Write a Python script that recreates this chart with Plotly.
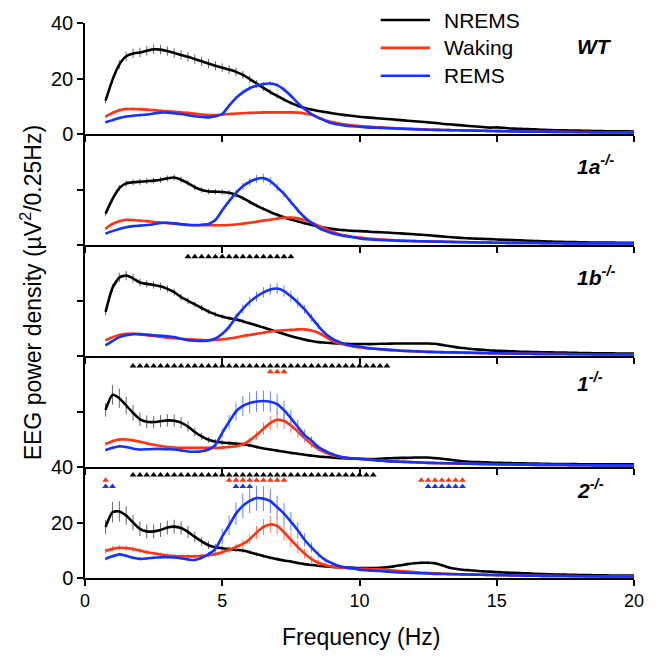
import plotly.graph_objects as go

# ---------------- data ----------------
FREQ = [0.75 + 0.25 * i for i in range(78)]   # 0.25-Hz bins, 0.75 .. 20 Hz

# ---- WT ----
WT_NREMS = [12.0,
 19.5, 25.0, 28.0, 29.0, 29.4, 30.0, 30.5, 30.4, 29.9, 29.2, 28.5, 27.8,
 27.0, 26.2, 25.4, 24.6, 23.9, 23.2, 22.4, 21.3, 19.8, 18.2, 16.6, 15.1,
 13.7, 12.4, 11.2, 10.2, 9.4, 8.8, 8.3, 7.9, 7.5, 7.1, 6.8, 6.5,
 6.2, 6.0, 5.8, 5.6, 5.4, 5.2, 5.0, 4.8, 4.6, 4.4, 4.2, 4.0,
 3.7, 3.5, 3.3, 3.1, 2.9, 2.7, 2.5, 2.3, 2.4, 2.2, 2.0, 1.9,
 1.8, 1.7, 1.6, 1.5, 1.4, 1.35, 1.3, 1.25, 1.2, 1.15, 1.1, 1.05,
 1.0, 1.0, 0.95, 0.95, 0.9]
WT_WAKE = [6.3,
 7.6, 8.6, 9.0, 9.0, 8.9, 8.8, 8.6, 8.4, 8.2, 8.0, 7.8, 7.6,
 7.3, 7.0, 6.8, 6.8, 7.0, 7.2, 7.4, 7.5, 7.6, 7.7, 7.8, 7.8,
 7.8, 7.8, 7.8, 7.7, 7.4, 6.9, 6.0, 5.0, 4.3, 3.8, 3.4, 3.1,
 2.9, 2.7, 2.5, 2.4, 2.2, 2.1, 2.0, 1.9, 1.8, 1.7, 1.6, 1.5,
 1.45, 1.4, 1.35, 1.3, 1.25, 1.2, 1.15, 1.1, 1.05, 1.0, 0.95, 0.9,
 0.9, 0.85, 0.85, 0.8, 0.8, 0.75, 0.75, 0.7, 0.7, 0.7, 0.65, 0.65,
 0.65, 0.6, 0.6, 0.6, 0.6]
WT_REM = [4.2,
 5.0, 5.8, 6.3, 6.6, 6.8, 7.0, 7.4, 7.7, 7.7, 7.5, 7.2, 6.8,
 6.4, 6.1, 6.0, 6.4, 7.2, 10.2, 13.0, 15.0, 16.5, 17.4, 18.0, 18.2,
 17.6, 16.0, 13.8, 11.2, 9.0, 7.2, 5.8, 4.8, 3.9, 3.4, 3.0, 2.8,
 2.6, 2.4, 2.3, 2.2, 2.1, 2.0, 1.9, 1.8, 1.7, 1.6, 1.55, 1.5,
 1.45, 1.4, 1.35, 1.3, 1.25, 1.2, 1.15, 1.1, 1.05, 1.0, 0.95, 0.9,
 0.85, 0.85, 0.8, 0.8, 0.75, 0.75, 0.7, 0.7, 0.65, 0.65, 0.6, 0.6,
 0.6, 0.55, 0.55, 0.55, 0.55]

# ---- 1a-/- ----
A1_NREMS = [11.3,
 16.5, 20.5, 22.2, 22.6, 22.8, 23.0, 23.2, 23.5, 24.0, 24.3, 23.5, 22.3,
 20.8, 19.8, 19.3, 19.2, 19.1, 18.8, 18.0, 16.9, 15.5, 14.2, 13.0, 11.9,
 10.9, 10.0, 9.2, 8.5, 7.8, 7.2, 6.7, 6.2, 5.8, 5.5, 5.3, 5.1,
 5.0, 4.9, 4.7, 4.6, 4.5, 4.3, 4.2, 4.0, 3.9, 3.7, 3.5, 3.3,
 3.1, 2.9, 2.7, 2.5, 2.4, 2.3, 2.2, 2.1, 2.0, 1.9, 1.8, 1.7,
 1.6, 1.5, 1.4, 1.3, 1.2, 1.15, 1.1, 1.05, 1.0, 0.95, 0.9, 0.9,
 0.85, 0.85, 0.8, 0.8, 0.8]
A1_WAKE = [5.9,
 7.6, 8.6, 9.1, 9.0, 8.8, 8.6, 8.3, 8.1, 7.9, 7.7, 7.5, 7.3,
 7.2, 7.1, 7.1, 7.1, 7.1, 7.2, 7.4, 7.7, 8.0, 8.4, 8.8, 9.1,
 9.5, 9.8, 9.9, 9.6, 9.0, 8.1, 7.0, 5.9, 4.8, 4.0, 3.4, 3.0,
 2.7, 2.4, 2.2, 2.0, 1.85, 1.7, 1.6, 1.5, 1.4, 1.3, 1.25, 1.2,
 1.15, 1.1, 1.05, 1.0, 0.95, 0.9, 0.9, 0.85, 0.8, 0.8, 0.75, 0.75,
 0.7, 0.7, 0.7, 0.65, 0.65, 0.65, 0.6, 0.6, 0.6, 0.6, 0.6, 0.6,
 0.6, 0.6, 0.6, 0.6, 0.6]
A1_REM = [4.1,
 5.0, 5.8, 6.4, 6.8, 7.0, 7.2, 7.5, 7.9, 8.0, 7.8, 7.5, 7.2,
 7.1, 7.3, 7.6, 9.0, 12.5, 15.8, 18.8, 21.2, 22.8, 23.8, 24.1, 23.0,
 20.8, 18.4, 15.5, 12.6, 10.0, 8.0, 6.3, 5.1, 4.2, 3.6, 3.2, 2.8,
 2.4, 2.1, 1.9, 1.8, 1.7, 1.6, 1.5, 1.45, 1.4, 1.35, 1.3, 1.25,
 1.2, 1.15, 1.1, 1.05, 1.0, 0.95, 0.9, 0.85, 0.8, 0.8, 0.75, 0.75,
 0.7, 0.7, 0.7, 0.65, 0.65, 0.65, 0.6, 0.6, 0.6, 0.6, 0.6, 0.6,
 0.6, 0.6, 0.6, 0.6, 0.6]

# ---- 1b-/- ----
B1_NREMS = [15.9,
 24.5, 28.3, 29.0, 28.0, 26.5, 26.0, 25.6, 25.1, 24.2, 23.0, 21.2, 19.9,
 18.6, 17.3, 16.0, 15.0, 14.2, 13.6, 13.2, 12.5, 11.8, 11.0, 10.3, 9.5,
 8.7, 7.9, 7.2, 6.5, 5.9, 5.4, 5.0, 4.8, 4.6, 4.5, 4.4, 4.3,
 4.3, 4.3, 4.3, 4.4, 4.4, 4.5, 4.5, 4.5, 4.5, 4.5, 4.5, 4.4,
 4.0, 3.6, 3.2, 2.9, 2.6, 2.4, 2.2, 2.0, 1.9, 1.8, 1.7, 1.6,
 1.5, 1.45, 1.4, 1.35, 1.3, 1.25, 1.2, 1.15, 1.1, 1.05, 1.0, 1.0,
 0.95, 0.95, 0.9, 0.9, 0.9]
B1_WAKE = [5.7,
 6.8, 7.6, 8.0, 8.0, 7.8, 7.5, 7.2, 6.9, 6.6, 6.4, 6.2, 6.0,
 5.9, 5.8, 5.7, 5.8, 6.0, 6.3, 6.7, 7.2, 7.6, 8.0, 8.4, 8.8,
 9.1, 9.3, 9.4, 9.6, 9.6, 9.2, 8.4, 7.0, 5.5, 4.6, 4.0, 3.4,
 3.1, 2.8, 2.6, 2.4, 2.2, 2.05, 1.9, 1.8, 1.7, 1.6, 1.5, 1.4,
 1.3, 1.25, 1.2, 1.15, 1.1, 1.05, 1.0, 0.95, 0.9, 0.9, 0.85, 0.85,
 0.8, 0.8, 0.75, 0.75, 0.7, 0.7, 0.7, 0.65, 0.65, 0.65, 0.6, 0.6,
 0.6, 0.6, 0.6, 0.6, 0.6]
B1_REM = [3.9,
 5.4, 6.8, 7.5, 7.9, 7.9, 7.7, 7.5, 7.3, 7.1, 6.8, 6.2, 5.7,
 5.5, 5.4, 5.6, 6.3, 8.0, 10.5, 14.0, 17.0, 19.5, 21.4, 22.9, 24.0,
 24.3, 23.4, 21.5, 19.3, 16.8, 13.8, 10.8, 8.1, 6.3, 5.1, 4.2, 3.7,
 3.4, 3.0, 2.7, 2.5, 2.3, 2.1, 1.9, 1.8, 1.7, 1.6, 1.5, 1.45,
 1.4, 1.35, 1.3, 1.25, 1.2, 1.15, 1.1, 1.05, 1.0, 0.95, 0.9, 0.85,
 0.8, 0.8, 0.75, 0.75, 0.7, 0.7, 0.7, 0.65, 0.65, 0.65, 0.6, 0.6,
 0.6, 0.6, 0.6, 0.6, 0.6]

# ---- 1-/- ----
K1_NREMS = [20.6,
 26.0, 24.8, 22.2, 19.5, 17.2, 16.3, 16.2, 16.5, 16.8, 16.7, 16.0, 14.6,
 12.6, 11.0, 9.8, 9.1, 8.8, 8.6, 8.4, 8.2, 7.8, 7.2, 6.7, 6.3,
 5.9, 5.5, 5.1, 4.8, 4.4, 4.1, 3.8, 3.6, 3.4, 3.2, 3.1, 3.0,
 3.0, 2.9, 2.9, 3.0, 3.1, 3.2, 3.3, 3.3, 3.4, 3.4, 3.4, 3.2,
 3.0, 2.7, 2.4, 2.1, 1.9, 1.8, 1.7, 1.6, 1.5, 1.45, 1.4, 1.35,
 1.3, 1.25, 1.2, 1.15, 1.1, 1.1, 1.05, 1.05, 1.0, 1.0, 1.0, 1.0,
 1.0, 0.95, 0.95, 0.95, 0.95]
K1_WAKE = [8.3,
 9.3, 9.9, 9.9, 9.6, 9.1, 8.5, 8.0, 7.6, 7.2, 7.0, 6.9, 6.9,
 6.9, 6.9, 6.9, 6.9, 7.0, 7.2, 7.5, 8.2, 9.6, 11.5, 13.8, 15.8,
 17.0, 16.6, 15.0, 12.8, 10.4, 8.2, 6.5, 5.2, 4.3, 3.7, 3.3, 3.1,
 2.9, 2.7, 2.5, 2.3, 2.1, 2.0, 1.9, 1.8, 1.7, 1.6, 1.5, 1.4,
 1.35, 1.3, 1.25, 1.2, 1.15, 1.1, 1.05, 1.0, 0.95, 0.9, 0.9, 0.85,
 0.8, 0.8, 0.75, 0.75, 0.7, 0.7, 0.7, 0.65, 0.65, 0.65, 0.6, 0.6,
 0.6, 0.6, 0.6, 0.6, 0.6]
K1_REM = [6.1,
 6.9, 7.5, 7.2, 6.6, 6.3, 6.4, 6.5, 6.5, 6.4, 6.3, 6.0, 5.6,
 5.5, 5.7, 6.3, 8.0, 12.3, 16.3, 20.0, 22.0, 23.1, 23.6, 23.8, 23.5,
 22.7, 20.5, 17.6, 14.5, 11.5, 9.5, 7.2, 5.8, 4.7, 3.9, 3.4, 3.1,
 2.9, 2.7, 2.5, 2.3, 2.1, 2.0, 1.9, 1.8, 1.7, 1.6, 1.5, 1.45,
 1.4, 1.35, 1.3, 1.25, 1.2, 1.15, 1.1, 1.05, 1.0, 0.95, 0.9, 0.85,
 0.8, 0.8, 0.75, 0.75, 0.7, 0.7, 0.7, 0.65, 0.65, 0.65, 0.6, 0.6,
 0.6, 0.6, 0.6, 0.6, 0.6]

# ---- 2-/- ----
K2_NREMS = [18.4,
 23.7, 24.0, 22.5, 20.0, 17.7, 16.8, 16.8, 17.3, 18.2, 18.5, 18.0, 16.6,
 14.8, 13.2, 11.8, 11.1, 10.7, 10.4, 10.2, 9.9, 9.3, 8.6, 7.9, 7.3,
 6.8, 6.3, 5.9, 5.4, 5.0, 4.7, 4.4, 4.2, 4.0, 3.9, 3.8, 3.7,
 3.6, 3.6, 3.6, 3.7, 3.9, 4.2, 4.6, 5.0, 5.3, 5.5, 5.5, 5.3,
 4.6, 3.8, 3.3, 3.0, 2.8, 2.6, 2.4, 2.3, 2.1, 2.0, 1.9, 1.8,
 1.7, 1.6, 1.5, 1.4, 1.3, 1.25, 1.2, 1.15, 1.1, 1.05, 1.0, 1.0,
 0.95, 0.9, 0.9, 0.85, 0.85]
K2_WAKE = [9.8,
 10.5, 10.9, 10.8, 10.4, 9.9, 9.3, 8.9, 8.5, 8.1, 7.9, 7.8, 7.8,
 7.8, 8.0, 8.2, 8.6, 9.3, 10.2, 11.2, 12.3, 14.0, 16.4, 18.4, 19.3,
 18.8, 16.5, 13.8, 11.1, 8.8, 6.8, 5.5, 4.7, 4.1, 3.8, 3.6, 3.4,
 3.3, 3.3, 3.2, 3.1, 2.9, 2.7, 2.5, 2.3, 2.1, 1.9, 1.8, 1.7,
 1.6, 1.5, 1.4, 1.3, 1.25, 1.2, 1.15, 1.1, 1.05, 1.0, 0.95, 0.9,
 0.85, 0.8, 0.8, 0.75, 0.75, 0.7, 0.7, 0.7, 0.65, 0.65, 0.65, 0.6,
 0.6, 0.6, 0.6, 0.6, 0.6]
K2_REM = [6.9,
 7.8, 8.5, 8.0, 7.3, 6.9, 7.0, 7.3, 7.5, 7.5, 7.4, 7.1, 6.7,
 6.5, 7.3, 8.6, 10.5, 15.0, 19.0, 23.2, 26.0, 27.8, 28.8, 28.6, 27.7,
 25.5, 23.2, 20.3, 17.2, 13.8, 11.0, 8.5, 6.5, 5.3, 4.3, 3.8, 3.5,
 3.0, 2.8, 2.6, 2.5, 2.3, 2.1, 2.0, 1.9, 1.8, 1.7, 1.6, 1.5,
 1.45, 1.4, 1.35, 1.3, 1.25, 1.2, 1.15, 1.1, 1.05, 1.0, 0.95, 0.9,
 0.85, 0.8, 0.8, 0.75, 0.75, 0.7, 0.7, 0.65, 0.65, 0.6, 0.6, 0.6,
 0.55, 0.55, 0.55, 0.55, 0.55]

# ---- SEM (error bars) ----
WT_NREMS_E = [1.0,
 1.3, 1.6, 1.7, 1.7, 1.7, 1.7, 1.7, 1.7, 1.7, 1.7, 1.7, 1.7,
 1.7, 1.7, 1.7, 1.7, 1.6, 1.6, 1.5, 1.4, 1.3, 1.2, 1.1, 1.0,
 0.9, 0.8, 0.7, 0.6, 0.5, 0.5, 0.4, 0.4, 0.4, 0.3, 0.3, 0.3,
 0.3, 0.3, 0.3, 0.3, 0.3, 0.3, 0.2, 0.2, 0.2, 0.2, 0.2, 0.2,
 0.2, 0.2, 0.2, 0.2, 0.2, 0.1, 0.1, 0.1, 0.1, 0.1, 0.1, 0.1,
 0.1, 0.1, 0.1, 0.1, 0.1, 0.1, 0.1, 0.1, 0.1, 0.1, 0.1, 0.1,
 0.1, 0.1, 0.1, 0.1, 0.1]
WT_WAKE_E = [0.5,
 0.6, 0.7, 0.7, 0.7, 0.7, 0.7, 0.6, 0.6, 0.6, 0.5, 0.5, 0.5,
 0.5, 0.4, 0.4, 0.4, 0.4, 0.4, 0.4, 0.4, 0.4, 0.4, 0.4, 0.4,
 0.4, 0.4, 0.4, 0.4, 0.4, 0.3, 0.3, 0.3, 0.3, 0.2, 0.2, 0.2,
 0.2, 0.2, 0.2, 0.2, 0.2, 0.1, 0.1, 0.1, 0.1, 0.1, 0.1, 0.1,
 0.1, 0.1, 0.1, 0.1, 0.1, 0.1, 0.1, 0.1, 0.1, 0.1, 0.1, 0.1,
 0.1, 0.1, 0.1, 0.1, 0.1, 0.1, 0.1, 0.1, 0.1, 0.1, 0.1, 0.1,
 0.1, 0.1, 0.1, 0.1, 0.1]
WT_REM_E = [0.4,
 0.5, 0.5, 0.5, 0.5, 0.5, 0.5, 0.5, 0.5, 0.5, 0.5, 0.5, 0.4,
 0.4, 0.4, 0.4, 0.4, 0.5, 0.6, 0.7, 0.8, 0.8, 0.8, 0.8, 0.8,
 0.8, 0.8, 0.7, 0.6, 0.5, 0.4, 0.3, 0.3, 0.2, 0.2, 0.2, 0.2,
 0.2, 0.2, 0.2, 0.2, 0.1, 0.1, 0.1, 0.1, 0.1, 0.1, 0.1, 0.1,
 0.1, 0.1, 0.1, 0.1, 0.1, 0.1, 0.1, 0.1, 0.1, 0.1, 0.1, 0.1,
 0.1, 0.1, 0.1, 0.1, 0.1, 0.1, 0.1, 0.1, 0.1, 0.1, 0.1, 0.1,
 0.1, 0.1, 0.1, 0.1, 0.1]
A1_NREMS_E = [0.8,
 1.0, 1.1, 1.1, 1.1, 1.1, 1.1, 1.1, 1.1, 1.1, 1.1, 1.1, 1.0,
 1.0, 1.0, 1.0, 1.0, 1.0, 0.9, 0.9, 0.8, 0.8, 0.7, 0.7, 0.6,
 0.6, 0.5, 0.5, 0.4, 0.4, 0.4, 0.3, 0.3, 0.3, 0.3, 0.3, 0.2,
 0.2, 0.2, 0.2, 0.2, 0.2, 0.2, 0.2, 0.2, 0.2, 0.1, 0.1, 0.1,
 0.1, 0.1, 0.1, 0.1, 0.1, 0.1, 0.1, 0.1, 0.1, 0.1, 0.1, 0.1,
 0.1, 0.1, 0.1, 0.1, 0.1, 0.1, 0.1, 0.1, 0.1, 0.1, 0.1, 0.1,
 0.1, 0.1, 0.1, 0.1, 0.1]
A1_WAKE_E = [0.4,
 0.5, 0.5, 0.5, 0.5, 0.5, 0.5, 0.5, 0.4, 0.4, 0.4, 0.4, 0.4,
 0.4, 0.4, 0.4, 0.4, 0.4, 0.4, 0.4, 0.4, 0.4, 0.5, 0.5, 0.5,
 0.5, 0.5, 0.5, 0.5, 0.5, 0.4, 0.4, 0.3, 0.3, 0.2, 0.2, 0.2,
 0.2, 0.2, 0.1, 0.1, 0.1, 0.1, 0.1, 0.1, 0.1, 0.1, 0.1, 0.1,
 0.1, 0.1, 0.1, 0.1, 0.1, 0.1, 0.1, 0.1, 0.1, 0.1, 0.1, 0.1,
 0.1, 0.1, 0.1, 0.1, 0.1, 0.1, 0.1, 0.1, 0.1, 0.1, 0.1, 0.1,
 0.1, 0.1, 0.1, 0.1, 0.1]
A1_REM_E = [0.3,
 0.4, 0.4, 0.4, 0.4, 0.4, 0.4, 0.4, 0.4, 0.4, 0.4, 0.4, 0.4,
 0.4, 0.4, 0.4, 0.5, 0.7, 0.9, 1.1, 1.3, 1.4, 1.5, 1.6, 1.5,
 1.4, 1.3, 1.1, 0.9, 0.7, 0.5, 0.4, 0.3, 0.3, 0.2, 0.2, 0.2,
 0.2, 0.1, 0.1, 0.1, 0.1, 0.1, 0.1, 0.1, 0.1, 0.1, 0.1, 0.1,
 0.1, 0.1, 0.1, 0.1, 0.1, 0.1, 0.1, 0.1, 0.1, 0.1, 0.1, 0.1,
 0.1, 0.1, 0.1, 0.1, 0.1, 0.1, 0.1, 0.1, 0.1, 0.1, 0.1, 0.1,
 0.1, 0.1, 0.1, 0.1, 0.1]
B1_NREMS_E = [1.2,
 1.5, 1.7, 1.7, 1.6, 1.4, 1.3, 1.3, 1.3, 1.3, 1.2, 1.2, 1.1,
 1.0, 1.0, 0.9, 0.9, 0.8, 0.8, 0.7, 0.7, 0.6, 0.6, 0.5, 0.5,
 0.5, 0.4, 0.4, 0.4, 0.3, 0.3, 0.3, 0.3, 0.3, 0.3, 0.3, 0.3,
 0.3, 0.3, 0.3, 0.3, 0.3, 0.3, 0.3, 0.3, 0.3, 0.3, 0.3, 0.3,
 0.2, 0.2, 0.2, 0.2, 0.1, 0.1, 0.1, 0.1, 0.1, 0.1, 0.1, 0.1,
 0.1, 0.1, 0.1, 0.1, 0.1, 0.1, 0.1, 0.1, 0.1, 0.1, 0.1, 0.1,
 0.1, 0.1, 0.1, 0.1, 0.1]
B1_WAKE_E = [0.3,
 0.4, 0.4, 0.4, 0.4, 0.4, 0.4, 0.4, 0.4, 0.4, 0.3, 0.3, 0.3,
 0.3, 0.3, 0.3, 0.3, 0.3, 0.3, 0.4, 0.4, 0.4, 0.4, 0.5, 0.5,
 0.5, 0.5, 0.5, 0.5, 0.5, 0.5, 0.4, 0.4, 0.3, 0.3, 0.2, 0.2,
 0.2, 0.2, 0.1, 0.1, 0.1, 0.1, 0.1, 0.1, 0.1, 0.1, 0.1, 0.1,
 0.1, 0.1, 0.1, 0.1, 0.1, 0.1, 0.1, 0.1, 0.1, 0.1, 0.1, 0.1,
 0.1, 0.1, 0.1, 0.1, 0.1, 0.1, 0.1, 0.1, 0.1, 0.1, 0.1, 0.1,
 0.1, 0.1, 0.1, 0.1, 0.1]
B1_REM_E = [0.3,
 0.4, 0.4, 0.4, 0.4, 0.4, 0.4, 0.4, 0.4, 0.4, 0.4, 0.3, 0.3,
 0.3, 0.3, 0.3, 0.4, 0.6, 0.9, 1.2, 1.5, 1.7, 1.8, 1.9, 2.0,
 2.0, 2.0, 1.9, 1.8, 1.6, 1.4, 1.1, 0.8, 0.6, 0.4, 0.3, 0.3,
 0.2, 0.2, 0.2, 0.1, 0.1, 0.1, 0.1, 0.1, 0.1, 0.1, 0.1, 0.1,
 0.1, 0.1, 0.1, 0.1, 0.1, 0.1, 0.1, 0.1, 0.1, 0.1, 0.1, 0.1,
 0.1, 0.1, 0.1, 0.1, 0.1, 0.1, 0.1, 0.1, 0.1, 0.1, 0.1, 0.1,
 0.1, 0.1, 0.1, 0.1, 0.1]
K1_NREMS_E = [2.5,
 3.5, 3.5, 3.2, 2.8, 2.5, 2.3, 2.2, 2.2, 2.2, 2.2, 2.0, 1.8,
 1.5, 1.3, 1.1, 1.0, 0.9, 0.8, 0.8, 0.7, 0.6, 0.6, 0.5, 0.5,
 0.5, 0.4, 0.4, 0.4, 0.3, 0.3, 0.3, 0.3, 0.3, 0.3, 0.3, 0.3,
 0.3, 0.3, 0.3, 0.3, 0.3, 0.3, 0.3, 0.3, 0.3, 0.3, 0.3, 0.3,
 0.2, 0.2, 0.2, 0.2, 0.1, 0.1, 0.1, 0.1, 0.1, 0.1, 0.1, 0.1,
 0.1, 0.1, 0.1, 0.1, 0.1, 0.1, 0.1, 0.1, 0.1, 0.1, 0.1, 0.1,
 0.1, 0.1, 0.1, 0.1, 0.1]
K1_WAKE_E = [0.5,
 0.6, 0.6, 0.6, 0.6, 0.6, 0.6, 0.5, 0.5, 0.5, 0.5, 0.5, 0.5,
 0.5, 0.5, 0.5, 0.5, 0.5, 0.5, 0.6, 0.8, 1.0, 1.5, 2.2, 2.6,
 2.8, 2.8, 2.6, 2.2, 1.7, 1.3, 0.9, 0.6, 0.4, 0.3, 0.3, 0.2,
 0.2, 0.2, 0.2, 0.2, 0.1, 0.1, 0.1, 0.1, 0.1, 0.1, 0.1, 0.1,
 0.1, 0.1, 0.1, 0.1, 0.1, 0.1, 0.1, 0.1, 0.1, 0.1, 0.1, 0.1,
 0.1, 0.1, 0.1, 0.1, 0.1, 0.1, 0.1, 0.1, 0.1, 0.1, 0.1, 0.1,
 0.1, 0.1, 0.1, 0.1, 0.1]
K1_REM_E = [0.4,
 0.5, 0.5, 0.5, 0.5, 0.5, 0.5, 0.5, 0.5, 0.5, 0.5, 0.5, 0.4,
 0.4, 0.4, 0.5, 0.8, 1.6, 2.5, 3.2, 3.6, 3.8, 3.8, 3.8, 3.8,
 3.7, 3.4, 3.0, 2.5, 2.0, 1.5, 1.0, 0.7, 0.5, 0.3, 0.3, 0.2,
 0.2, 0.2, 0.2, 0.1, 0.1, 0.1, 0.1, 0.1, 0.1, 0.1, 0.1, 0.1,
 0.1, 0.1, 0.1, 0.1, 0.1, 0.1, 0.1, 0.1, 0.1, 0.1, 0.1, 0.1,
 0.1, 0.1, 0.1, 0.1, 0.1, 0.1, 0.1, 0.1, 0.1, 0.1, 0.1, 0.1,
 0.1, 0.1, 0.1, 0.1, 0.1]
K2_NREMS_E = [2.5,
 3.7, 3.7, 3.3, 2.8, 2.6, 2.5, 2.5, 2.5, 2.5, 2.5, 2.4, 2.2,
 1.9, 1.6, 1.4, 1.2, 1.0, 0.9, 0.9, 0.8, 0.7, 0.7, 0.6, 0.6,
 0.6, 0.5, 0.5, 0.5, 0.4, 0.4, 0.4, 0.4, 0.4, 0.4, 0.4, 0.4,
 0.4, 0.4, 0.4, 0.4, 0.4, 0.5, 0.5, 0.6, 0.6, 0.6, 0.6, 0.6,
 0.5, 0.4, 0.3, 0.3, 0.2, 0.2, 0.2, 0.1, 0.1, 0.1, 0.1, 0.1,
 0.1, 0.1, 0.1, 0.1, 0.1, 0.1, 0.1, 0.1, 0.1, 0.1, 0.1, 0.1,
 0.1, 0.1, 0.1, 0.1, 0.1]
K2_WAKE_E = [0.9,
 1.0, 1.0, 1.0, 1.0, 0.9, 0.8, 0.7, 0.7, 0.7, 0.7, 0.7, 0.7,
 0.7, 0.7, 0.7, 0.8, 0.9, 1.1, 1.2, 1.4, 1.8, 2.4, 2.9, 3.1,
 3.1, 2.9, 2.6, 2.2, 1.8, 1.4, 1.0, 0.7, 0.5, 0.4, 0.4, 0.3,
 0.3, 0.3, 0.3, 0.2, 0.2, 0.2, 0.2, 0.2, 0.2, 0.1, 0.1, 0.1,
 0.1, 0.1, 0.1, 0.1, 0.1, 0.1, 0.1, 0.1, 0.1, 0.1, 0.1, 0.1,
 0.1, 0.1, 0.1, 0.1, 0.1, 0.1, 0.1, 0.1, 0.1, 0.1, 0.1, 0.1,
 0.1, 0.1, 0.1, 0.1, 0.1]
K2_REM_E = [0.5,
 0.6, 0.6, 0.6, 0.6, 0.5, 0.5, 0.5, 0.5, 0.5, 0.5, 0.5, 0.5,
 0.5, 0.6, 0.8, 1.5, 2.8, 3.5, 4.0, 4.4, 4.5, 4.5, 4.5, 4.4,
 4.2, 3.9, 3.5, 3.0, 2.4, 1.8, 1.3, 0.9, 0.6, 0.4, 0.3, 0.3,
 0.3, 0.2, 0.2, 0.2, 0.2, 0.1, 0.1, 0.1, 0.1, 0.1, 0.1, 0.1,
 0.1, 0.1, 0.1, 0.1, 0.1, 0.1, 0.1, 0.1, 0.1, 0.1, 0.1, 0.1,
 0.1, 0.1, 0.1, 0.1, 0.1, 0.1, 0.1, 0.1, 0.1, 0.1, 0.1, 0.1,
 0.1, 0.1, 0.1, 0.1, 0.1]

# significance markers (frequencies, Hz)
SIG_1B_NREMS = [3.75, 4.0, 4.25, 4.5, 4.75, 5.0, 5.25, 5.5, 5.75, 6.0, 6.25, 6.5,
                6.75, 7.0, 7.25, 7.5]
SIG_1_NREMS = [1.75, 2.0, 2.25, 2.5, 2.75, 3.0, 3.25, 3.5, 3.75, 4.0, 4.25, 4.5,
               4.75, 5.0, 5.25, 5.5, 5.75, 6.0, 6.25, 6.5, 6.75, 7.0, 7.25, 7.5,
               7.75, 8.0, 8.25, 8.5, 8.75, 9.0, 9.25, 9.5, 9.75, 10.0, 10.25, 10.5,
               10.75, 11.0]
SIG_1_WAKE = [6.75, 7.0, 7.25]
SIG_2_NREMS = [1.75, 2.0, 2.25, 2.5, 2.75, 3.0, 3.25, 3.5, 3.75, 4.0, 4.25, 4.5,
               4.75, 5.0, 5.25, 5.5, 5.75, 6.0, 6.25, 6.5, 6.75, 7.0, 7.25, 7.5,
               7.75, 8.0, 8.25, 8.5, 8.75, 9.0, 9.25, 9.5, 9.75, 10.0, 10.25, 10.5]
SIG_2_WAKE = [0.75, 5.25, 5.5, 5.75, 6.0, 6.25, 6.5, 6.75, 7.0, 7.25,
              12.25, 12.5, 12.75, 13.0, 13.25, 13.5, 13.75]
SIG_2_REM = [0.75, 1.0, 5.5, 5.75, 6.0, 12.5, 12.75, 13.0, 13.25, 13.5, 13.75]

SERIES_NAMES = ["NREMS", "Waking", "REMS"]
PANEL_NAMES = ["WT", "1a", "1b", "1", "2"]
X_TICKS = [0, 5, 10, 15, 20]

# ---------------- styling ----------------
FONT = "Liberation Sans, Arial, sans-serif"
LINE_COLORS = ["#000000", "#FF3214", "#1432FF"]
ERR_COLORS = ["#666666", "#FF7A5E", "#6A84FF"]

panels = [
    [(WT_NREMS, WT_NREMS_E), (WT_WAKE, WT_WAKE_E), (WT_REM, WT_REM_E)],
    [(A1_NREMS, A1_NREMS_E), (A1_WAKE, A1_WAKE_E), (A1_REM, A1_REM_E)],
    [(B1_NREMS, B1_NREMS_E), (B1_WAKE, B1_WAKE_E), (B1_REM, B1_REM_E)],
    [(K1_NREMS, K1_NREMS_E), (K1_WAKE, K1_WAKE_E), (K1_REM, K1_REM_E)],
    [(K2_NREMS, K2_NREMS_E), (K2_WAKE, K2_WAKE_E), (K2_REM, K2_REM_E)],
]
for p in panels:
    for v, e in p:
        assert len(v) == len(FREQ) and len(e) == len(FREQ), (len(v), len(e))

# (panel, series index, freqs, row height in panel units)
sig_rows = [
    (2, 0, SIG_1B_NREMS, 35.8),
    (3, 0, SIG_1_NREMS, 36.4),
    (3, 1, SIG_1_WAKE, 34.3),
    (4, 0, SIG_2_NREMS, 37.1),
    (4, 1, SIG_2_WAKE, 35.2),
    (4, 2, SIG_2_REM, 33.0),
]

fig = go.Figure()
N = 5
for k in range(N):
    xa = "x" if k == 0 else f"x{k+1}"
    ya = "y" if k == 0 else f"y{k+1}"
    for s, (vals, errs) in enumerate(panels[k]):
        fig.add_trace(go.Scatter(
            x=FREQ, y=vals, mode="lines", name=SERIES_NAMES[s],
            line=dict(color=LINE_COLORS[s], width=2.6, shape="spline", smoothing=0.6),
            error_y=dict(type="data", array=errs, visible=True, thickness=1,
                         width=0, color=ERR_COLORS[s]),
            xaxis=xa, yaxis=ya, showlegend=False, hoverinfo="skip"))

for k, s, freqs, row in sig_rows:
    xa = "x" if k == 0 else f"x{k+1}"
    ya = "y" if k == 0 else f"y{k+1}"
    fig.add_trace(go.Scatter(
        x=freqs, y=[row] * len(freqs), mode="markers",
        marker=dict(symbol="triangle-up", size=6, color=LINE_COLORS[s]),
        xaxis=xa, yaxis=ya, showlegend=False, hoverinfo="skip"))

layout = dict(
    width=656, height=659,
    margin=dict(l=85, r=14, t=20, b=81),
    paper_bgcolor="white", plot_bgcolor="white",
    font=dict(family=FONT, color="black"),
    showlegend=False,
)
for k in range(N):
    sfx = "" if k == 0 else str(k + 1)
    top = 1 - k / N
    bot = 1 - (k + 1) / N
    layout["xaxis" + sfx] = dict(
        domain=[0, 1], range=[0, 20], anchor="y" + sfx,
        tickvals=X_TICKS, ticks="outside", ticklen=6, tickwidth=1.5,
        showline=True, linewidth=1.5, linecolor="black", tickcolor="black",
        showgrid=False, zeroline=False, showticklabels=(k == N - 1),
        tickfont=dict(size=18))
    layout["yaxis" + sfx] = dict(
        domain=[bot, top], range=[0, 40], anchor="x" + sfx,
        tickvals=[0, 20, 40] if k in (0, N - 1) else [0, 20],
        ticks="outside", ticklen=6, tickwidth=1.5,
        showline=True, linewidth=1.5, linecolor="black", tickcolor="black",
        showgrid=False, zeroline=False, showticklabels=(k in (0, N - 1)),
        tickfont=dict(size=20))
fig.update_layout(**layout)

# panel labels
label_y = [31.5, 29.0, 28.7, 30.5, 31.9]
for k, name in enumerate(PANEL_NAMES):
    sfx = "" if k == 0 else str(k + 1)
    txt = f"<b><i>{name}</i></b>" if k == 0 else f"<b><i>{name}</i></b><sup><b><i>-/-</i></b></sup>"
    fig.add_annotation(x=17.85, y=label_y[k], xref="x" + sfx, yref="y" + sfx,
                       text=txt, showarrow=False, xanchor="left", yanchor="middle",
                       font=dict(size=21, family=FONT))

# legend (drawn manually)
W, H = 557.0, 558.0
def px(xp):
    return (xp - 85) / W
def py(yp):
    return (578 - yp) / H
for s, ypix in enumerate([17, 45, 73]):
    fig.add_shape(type="line", xref="paper", yref="paper",
                  x0=px(385), x1=px(435), y0=py(ypix), y1=py(ypix),
                  line=dict(color=LINE_COLORS[s], width=2.6))
    fig.add_annotation(x=px(447), y=py(ypix), xref="paper", yref="paper",
                       text=SERIES_NAMES[s], showarrow=False, xanchor="left",
                       yanchor="middle", font=dict(size=21, family=FONT))

# axis titles
fig.add_annotation(x=px(30), y=py(291), xref="paper", yref="paper",
                   text="EEG power density (µV<sup>2</sup>/0.25Hz)", textangle=-90,
                   showarrow=False, xanchor="center", yanchor="middle",
                   font=dict(size=23, family=FONT))
fig.add_annotation(x=px(365), y=py(637), xref="paper", yref="paper",
                   text="Frequency (Hz)", showarrow=False, xanchor="center",
                   yanchor="middle", font=dict(size=23, family=FONT))

fig.write_html("out.html")
